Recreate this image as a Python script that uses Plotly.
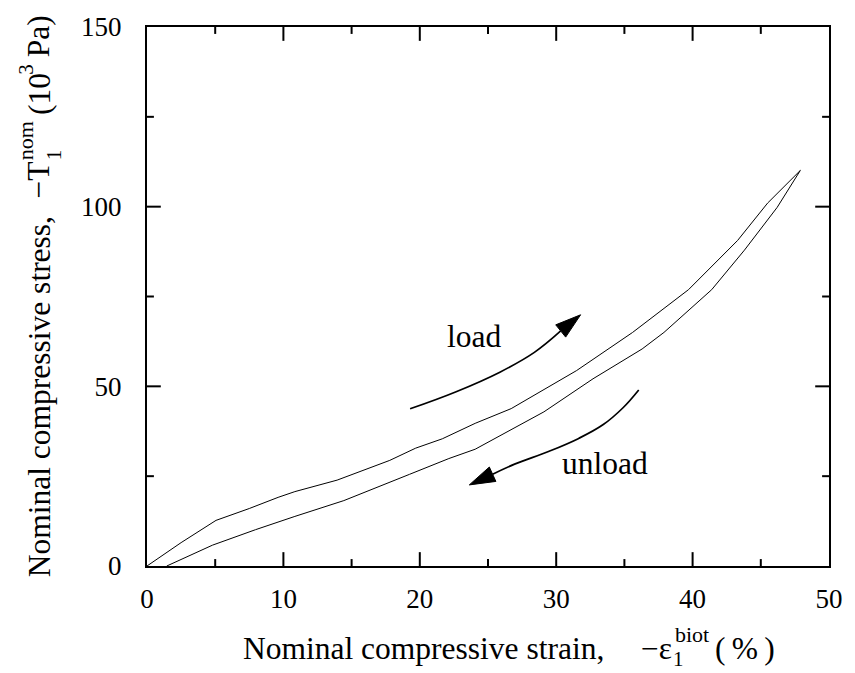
import math
import plotly.graph_objects as go

# ---------------- data ----------------
load_strain = [0, 2.5, 5.06, 7.5, 9.61, 10.84, 13.94, 17.8, 19.7, 21.65, 24.06, 26.7, 31.5, 35.6, 39.7, 43.3, 45.5, 47.9]
load_stress = [0, 6.5, 12.7, 16.0, 19.1, 20.7, 23.9, 29.4, 32.8, 35.4, 39.7, 43.8, 54.4, 65.0, 76.9, 90.6, 101.0, 110.1]

unload_strain = [47.9, 46.2, 43.8, 41.4, 37.9, 36.3, 32.7, 29.1, 24.06, 22.13, 19.24, 14.43, 10.84, 7.95, 4.8, 1.45]
unload_stress = [110.1, 99.8, 87.9, 76.9, 65.0, 60.4, 52.1, 42.9, 32.5, 29.9, 25.5, 18.2, 13.8, 10.1, 5.8, 0]

load_arrow_x = [19.29, 22.62, 25.87, 28.40, 31.79]
load_arrow_y = [43.76, 48.44, 53.95, 59.45, 69.91]
unload_arrow_x = [36.05, 34.90, 33.45, 31.65, 29.48, 26.95, 23.63]
unload_arrow_y = [48.99, 44.04, 39.36, 35.51, 31.93, 28.35, 22.57]

x_range = [0, 50]
y_range = [0, 150]
x_major, x_minor = 10, 5
y_major, y_minor = 50, 25

# ---------------- layout geometry ----------------
W, H = 855, 673
ML, MR, MT, MB = 147, 16, 21, 107
PW, PH = W - ML - MR, H - MT - MB
sx = PW / (x_range[1] - x_range[0])
sy = PH / (y_range[1] - y_range[0])

FONT = "Liberation Serif, Times New Roman, serif"
ASC, DESC = 0.891, 0.216
TS = 31.5   # title / annotation font size
SS = 22     # superscript size
BS = 21     # subscript size
MAJ_LEN, MIN_LEN, TICK_W = 14, 7, 2


def px2paper_x(px):
    return (px - ML) / PW


def px2paper_y(py):
    return (H - MB - py) / PH


def htext(text, left_px, baseline_px, size, pad=1):
    h = (ASC + DESC) * size
    cy = baseline_px - ASC * size + h / 2
    return dict(text=text, xref="paper", yref="paper", x=px2paper_x(left_px), y=px2paper_y(cy),
                xanchor="left", yanchor="middle", showarrow=False, borderpad=pad, borderwidth=0,
                font=dict(family=FONT, size=size, color="black"))


def vtext(text, bottom_px, baseline_x, size):
    h = (ASC + DESC) * size
    cx = baseline_x - ASC * size + h / 2
    return dict(text=text, xref="paper", yref="paper", x=px2paper_x(cx), y=px2paper_y(bottom_px),
                xanchor="center", yanchor="bottom", showarrow=False, textangle=-90, borderpad=1, borderwidth=0,
                font=dict(family=FONT, size=size, color="black"))


def arrow_traces(xs, ys, head_len=26, head_w=16):
    tipx, tipy = xs[-1], ys[-1]
    px, py = xs[-2], ys[-2]
    dx = (tipx - px) * sx
    dy = (tipy - py) * sy
    d = math.hypot(dx, dy)
    ux, uy = dx / d, dy / d
    bx = tipx - head_len * ux / sx
    by = tipy - head_len * uy / sy
    nx, ny = -uy, ux
    c1 = (bx + head_w / 2 * nx / sx, by + head_w / 2 * ny / sy)
    c2 = (bx - head_w / 2 * nx / sx, by - head_w / 2 * ny / sy)
    line = go.Scatter(x=list(xs[:-1]) + [bx], y=list(ys[:-1]) + [by], mode="lines",
                      line=dict(color="black", width=1.7, shape="spline", smoothing=1.1),
                      hoverinfo="skip", showlegend=False)
    head = go.Scatter(x=[tipx, c1[0], c2[0], tipx], y=[tipy, c1[1], c2[1], tipy], mode="lines",
                      fill="toself", fillcolor="black", line=dict(color="black", width=1),
                      hoverinfo="skip", showlegend=False)
    return [line, head]


fig = go.Figure()
fig.add_trace(go.Scatter(x=load_strain, y=load_stress, mode="lines",
                         line=dict(color="black", width=1), name="load", showlegend=False))
fig.add_trace(go.Scatter(x=unload_strain, y=unload_stress, mode="lines",
                         line=dict(color="black", width=1), name="unload", showlegend=False))
for t in arrow_traces(load_arrow_x, load_arrow_y):
    fig.add_trace(t)
for t in arrow_traces(unload_arrow_x, unload_arrow_y):
    fig.add_trace(t)

# ---------------- tick marks (inside, on all four sides), built from the axis steps ----------------
tick_x, tick_y = [], []
v = x_range[0] + x_minor
while v < x_range[1]:
    L = (MAJ_LEN if v % x_major == 0 else MIN_LEN) / sy
    tick_x += [v, v, None, v, v, None]
    tick_y += [y_range[0], y_range[0] + L, None, y_range[1], y_range[1] - L, None]
    v += x_minor
v = y_range[0] + y_minor
while v < y_range[1]:
    L = (MAJ_LEN if v % y_major == 0 else MIN_LEN) / sx
    tick_x += [x_range[0], x_range[0] + L, None, x_range[1], x_range[1] - L, None]
    tick_y += [v, v, None, v, v, None]
    v += y_minor
fig.add_trace(go.Scatter(x=tick_x, y=tick_y, mode="lines", line=dict(color="black", width=TICK_W),
                         hoverinfo="skip", showlegend=False, connectgaps=False))

tickfont = dict(family=FONT, size=27, color="black")
fig.update_layout(
    xaxis=dict(range=x_range, tickmode="linear", tick0=0, dtick=x_major, ticks="", showgrid=False,
               zeroline=False, showline=True, linecolor="black", linewidth=2, mirror=True,
               tickfont=tickfont, ticklabelstandoff=8, fixedrange=True),
    yaxis=dict(range=y_range, tickmode="linear", tick0=0, dtick=y_major, ticks="", showgrid=False,
               zeroline=False, showline=True, linecolor="black", linewidth=2, mirror=True,
               tickfont=tickfont, ticklabelstandoff=18, fixedrange=True),
)

annotations = [
    htext("load", 450, 345, TS),
    htext("unload", 567, 473, TS),
    # x title pieces
    htext("Nominal compressive strain,", 243, 660, TS),
    htext("\u2212\u03b5", 647, 660, TS),
    htext("1", 681, 667, BS, pad=0),
    htext("biot", 682, 643, SS),
    htext("(\u2009%\u2009)", 722, 660, TS),
    # y title pieces (rotated)
    vtext("Nominal compressive stress,", 578, 48, TS),
    vtext("\u2212T", 195, 48, TS),
    vtext("1", 157, 60, BS),
    vtext("nom", 157, 31, SS),
    vtext("(10", 111, 48, TS),
    vtext("3", 70, 31, BS),
    vtext("\u2009Pa)", 59, 48, TS),
]

fig.update_layout(width=W, height=H, margin=dict(l=ML, r=MR, t=MT, b=MB),
                  paper_bgcolor="white", plot_bgcolor="white", showlegend=False,
                  annotations=annotations)

fig.write_html("out.html")
